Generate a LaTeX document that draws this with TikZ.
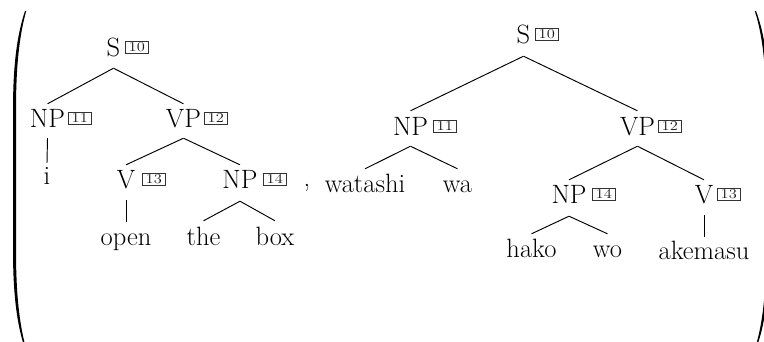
\documentclass[tikz,border=0pt]{standalone}
\usepackage{fontspec}
\usepackage{graphicx}
\definecolor{tagframe}{HTML}{333333}
\newcommand\catfont{\fontsize{26.5}{32}\selectfont}
\newcommand\tagfont{\fontsize{13.5}{15}\selectfont}
\newcommand\tagnum[1]{\scalebox{1.22}[1]{#1}}
\begin{document}
\begin{tikzpicture}[x=1pt,y=1pt,
  cat/.style={inner sep=0pt, anchor=base, text height=18pt, text depth=0pt, font=\catfont},
  tagbox/.style={draw=tagframe, line width=1pt, inner xsep=3.2pt, inner ysep=1.8pt,
    anchor=south west, font=\tagfont, text=black!90, text height=8.7pt, text depth=0pt},
  branch/.style={line width=0.95pt}]
\useasboundingbox (0,0) rectangle (764,-341);
\clip (0,0) rectangle (764,-341);

% big parentheses around the pair of trees
\fill (25,-11) .. controls (17,-35) and (13,-65) .. (13,-110) -- (13,-250)
  .. controls (13,-295) and (17,-325) .. (25,-349) -- (26.2,-349)
  .. controls (19.5,-325) and (16,-295) .. (16,-250) -- (16,-110)
  .. controls (16,-65) and (19.5,-35) .. (26.2,-11) -- cycle;
\fill (756,-11) .. controls (765,-35) and (769,-65) .. (769,-110) -- (769,-250)
  .. controls (769,-295) and (765,-325) .. (756,-349) -- (754.8,-349)
  .. controls (762.5,-325) and (766,-295) .. (766,-250) -- (766,-110)
  .. controls (766,-65) and (762.5,-35) .. (754.8,-11) -- cycle;

% English tree
\node[cat] (ls) at (113.5,-56) {S};
\node[tagbox] (lst) at (125,-54) {\tagnum{10}};
\node[cat] (lnp) at (47.5,-127) {NP};
\node[tagbox] (lnpt) at (68,-125) {\tagnum{11}};
\node[cat] (lvp) at (183.5,-127) {VP};
\node[tagbox] (lvpt) at (204,-125) {\tagnum{12}};
\node[cat] (li) at (47,-184) {i};
\node[cat] (lv) at (126,-188) {V};
\node[tagbox] (lvt) at (142,-186) {\tagnum{13}};
\node[cat] (lnpb) at (240,-188) {NP};
\node[tagbox] (lnpbt) at (263,-186) {\tagnum{14}};
\node[cat] (lopen) at (126,-245) {open};
\node[cat] (lthe) at (203.5,-245) {the};
\node[cat] (lbox) at (275,-245) {box};

\draw[branch] ([yshift=-12pt]ls.south) -- ([yshift=5pt]lnp.north);
\draw[branch] ([yshift=-12pt]ls.south) -- ([yshift=5pt]lvp.north);
\draw[branch] ([yshift=-11pt]lnp.south) -- ([yshift=3pt]li.north);
\draw[branch] ([yshift=-11pt]lvp.south) -- ([yshift=5pt]lv.north);
\draw[branch] ([yshift=-11pt]lvp.south) -- ([yshift=5pt]lnpb.north);
\draw[branch] ([yshift=-12pt]lv.south) -- ([yshift=5pt]lopen.north);
\draw[branch] ([yshift=-13pt]lnpb.south) -- ([yshift=6pt]lthe.north);
\draw[branch] ([yshift=-13pt]lnpb.south) -- ([yshift=6pt]lbox.north);

\node[cat] (comma) at (307,-186) {,};

% Japanese tree
\node[cat] (rs) at (523.5,-43) {S};
\node[tagbox] (rst) at (535,-41) {\tagnum{10}};
\node[cat] (rnp) at (410.5,-135) {NP};
\node[tagbox] (rnpt) at (433,-133) {\tagnum{11}};
\node[cat] (rvp) at (637.5,-135) {VP};
\node[tagbox] (rvpt) at (658,-133) {\tagnum{12}};
\node[cat] (rwatashi) at (365,-192) {watashi};
\node[cat] (rwa) at (457.5,-192) {wa};
\node[cat] (rnpb) at (569,-203) {NP};
\node[tagbox] (rnpbt) at (592,-201) {\tagnum{14}};
\node[cat] (rv) at (704,-203) {V};
\node[tagbox] (rvt) at (717,-201) {\tagnum{13}};
\node[cat] (rhako) at (531.5,-257) {hako};
\node[cat] (rwo) at (607.5,-257) {wo};
\node[cat] (rake) at (704,-259) {akemasu};

\draw[branch] ([yshift=-13pt]rs.south) -- ([yshift=6pt]rnp.north);
\draw[branch] ([yshift=-13pt]rs.south) -- ([yshift=6pt]rvp.north);
\draw[branch] ([yshift=-11pt]rnp.south) -- ([yshift=5pt]rwatashi.north);
\draw[branch] ([yshift=-11pt]rnp.south) -- ([yshift=5pt]rwa.north);
\draw[branch] ([yshift=-11pt]rvp.south) -- ([yshift=5pt]rnpb.north);
\draw[branch] ([yshift=-11pt]rvp.south) -- ([yshift=5pt]rv.north);
\draw[branch] ([yshift=-13pt]rnpb.south) -- ([yshift=5pt]rhako.north);
\draw[branch] ([yshift=-13pt]rnpb.south) -- ([yshift=5pt]rwo.north);
\draw[branch] ([yshift=-12pt]rv.south) -- ([yshift=4pt]rake.north);
\end{tikzpicture}
\end{document}
